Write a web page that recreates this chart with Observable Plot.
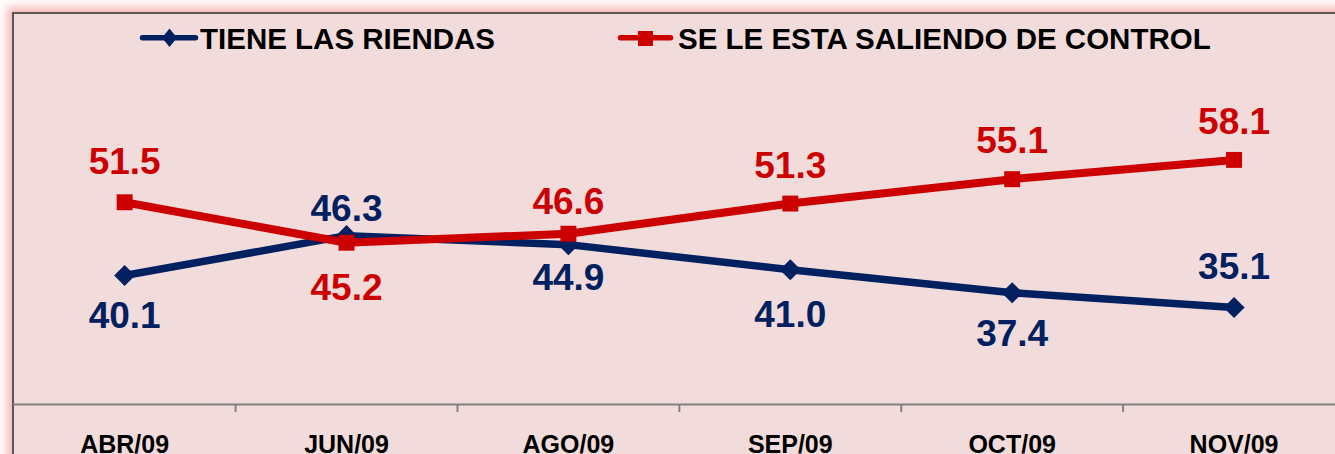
<!DOCTYPE html>
<html><head><meta charset="utf-8">
<script src="https://cdn.jsdelivr.net/npm/d3@7"></script>
<script src="https://cdn.jsdelivr.net/npm/@observablehq/plot@0.6"></script>
<style>
html,body{margin:0;padding:0;background:#fff;overflow:hidden;}
#wrap{position:relative;width:1335px;height:454px;overflow:hidden;}
#panel{position:absolute;left:12px;top:12px;width:1400px;height:520px;background:#f2dcdb;border-left:2px solid #5e5555;border-top:2px solid #5e5555;box-shadow:0 0 9px 5px rgba(242,120,120,0.55);}
#chart{position:absolute;left:0;top:0;}
#legend{position:absolute;left:0;top:0;}
</style></head><body>
<div id="wrap"><div id="panel"></div><div id="chart"></div>
<svg id="legend" width="1335" height="70" font-family="'Liberation Sans', Arial, sans-serif" font-weight="bold"></svg>
</div>
<script>
const months = ["ABR/09", "JUN/09", "AGO/09", "SEP/09", "OCT/09", "NOV/09"];
const tieneLasRiendas = [40.1, 46.3, 44.9, 41.0, 37.4, 35.1];
const seLeEstaSaliendo = [51.5, 45.2, 46.6, 51.3, 55.1, 58.1];
const seriesNames = ["TIENE LAS RIENDAS", "SE LE ESTA SALIENDO DE CONTROL"];

const blue = "#002060", red = "#cc0000";
const font = "'Liberation Sans', Arial, sans-serif";

const blueData = months.map((m, i) => ({x: i + 0.5, y: tieneLasRiendas[i]}));
const redData = months.map((m, i) => ({x: i + 0.5, y: seLeEstaSaliendo[i]}));

// label vertical offsets (px) relative to point, above (-) or below (+)
const blueDy = [41, -26, 34, 45, 41, -40];
const redDy = [-40, 45, -32, -37, -38, -38];

const labelMarks = (data, dys, color) => data.map((d, i) =>
  Plot.text([d], {x: "x", y: "y", text: d => d.y.toFixed(1), dy: dys[i], fill: color,
    fontSize: 37, fontWeight: "bold"}));

const chart = Plot.plot({
  width: 1335, height: 454,
  marginLeft: 13, marginRight: 0, marginTop: 83, marginBottom: 50,
  style: {background: "transparent", fontFamily: font, overflow: "visible"},
  x: {type: "linear", domain: [0, 6], range: [13.2, 1344.5], label: null},
  y: {domain: [20, 70], range: [404, 83], axis: null},
  marks: [
    Plot.ruleY([20], {stroke: "#808080", strokeWidth: 2}),
    Plot.axisX([1, 2, 3, 4, 5], {tickSize: 8, tickFormat: () => "", label: null, stroke: "#808080", strokeWidth: 2}),
    Plot.axisX(months.map((m, i) => i + 0.5), {tickSize: 0, tickPadding: 31, label: null,
      tickFormat: d => months[Math.floor(d)], fontSize: 25, fontWeight: "bold", fill: "#000"}),
    Plot.line(blueData, {x: "x", y: "y", stroke: blue, strokeWidth: 7.5}),
    Plot.dot(blueData, {x: "x", y: "y", symbol: "diamond2", r: 9.5, fill: blue}),
    Plot.line(redData, {x: "x", y: "y", stroke: red, strokeWidth: 8}),
    Plot.dot(redData, {x: "x", y: "y", symbol: "square", r: 9, fill: red}),
    ...labelMarks(blueData, blueDy, blue),
    ...labelMarks(redData, redDy, red)
  ]
});
document.getElementById("chart").appendChild(chart);

// legend
const lg = d3.select("#legend");
const items = [
  {name: seriesNames[0], color: blue, x1: 142.5, x2: 195.5, cx: 169.5, tx: 200, sym: "diamond"},
  {name: seriesNames[1], color: red, x1: 620.5, x2: 670.5, cx: 645.5, tx: 678, sym: "square"}
];
for (const it of items) {
  lg.append("line").attr("x1", it.x1).attr("x2", it.x2).attr("y1", 37.7).attr("y2", 37.7)
    .attr("stroke", it.color).attr("stroke-width", 5.5).attr("stroke-linecap", "round");
  if (it.sym === "diamond") {
    lg.append("polygon").attr("points", `${it.cx},28.5 ${it.cx + 7.5},37.7 ${it.cx},47 ${it.cx - 7.5},37.7`).attr("fill", it.color);
  } else {
    lg.append("rect").attr("x", it.cx - 7.5).attr("y", 31).attr("width", 15).attr("height", 15).attr("fill", it.color);
  }
  lg.append("text").attr("x", it.tx).attr("y", 49).attr("font-size", 29.5).attr("fill", "#000").text(it.name);
}
</script>
</body></html>
